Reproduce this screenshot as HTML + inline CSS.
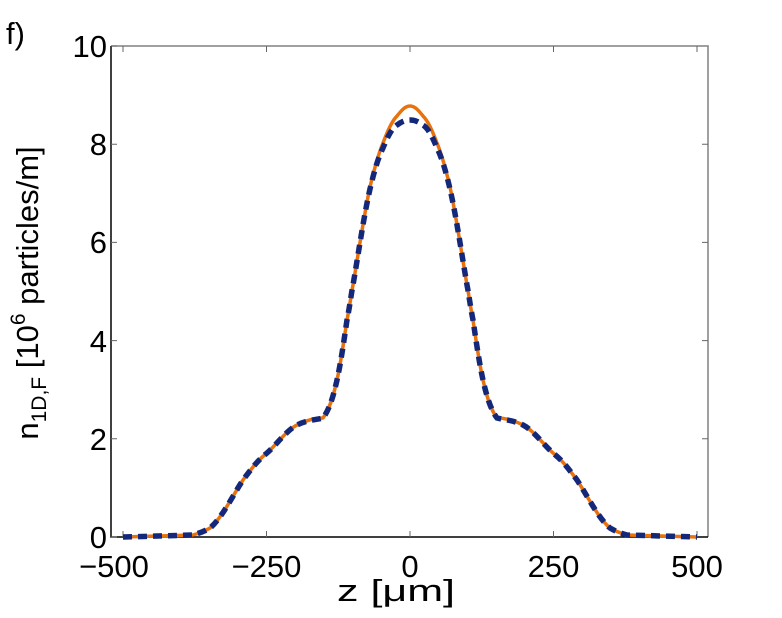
<!DOCTYPE html>
<html><head><style>body{margin:0;background:#fff}</style></head><body>
<svg width="782" height="613" xmlns="http://www.w3.org/2000/svg" font-family="Liberation Sans, sans-serif">
<rect width="782" height="613" fill="#fff"/>
<text x="6" y="44" font-size="31">f)</text>
<g stroke="#808080" stroke-width="1.5" fill="none">
<path d="M111,46 H708 V537"/>
</g>
<g stroke="#000" stroke-width="1.5" fill="none">
<path d="M111,46 V537 H708"/>
</g>
<g stroke="#666" stroke-width="1">
<path d="M123,537v-6M266.5,537v-6M410,537v-6M553.5,537v-6M697,537v-6M123,46v6M266.5,46v6M410,46v6M553.5,46v6M697,46v6"/>
<path d="M111,537h6M111,438.8h6M111,340.6h6M111,242.4h6M111,144.2h6M111,46h6M708,438.8h-6M708,340.6h-6M708,242.4h-6M708,144.2h-6"/>
</g>
<g font-size="31" text-anchor="end">
<text x="107" y="548">0</text><text x="107" y="450">2</text><text x="107" y="352">4</text>
<text x="107" y="253">6</text><text x="107" y="155">8</text><text x="107" y="57">10</text>
</g>
<g font-size="31" text-anchor="middle">
<text x="114" y="577">−500</text><text x="266.5" y="577">−250</text><text x="410" y="577">0</text>
<text x="553.5" y="577">250</text><text x="697" y="577">500</text>
<text x="396" y="601" textLength="118" lengthAdjust="spacingAndGlyphs">z [μm]</text>
</g>
<text transform="translate(38,293) rotate(-90)" font-size="31" text-anchor="middle">n<tspan font-size="21" dy="8">1D,F</tspan><tspan dy="-8"> [10</tspan><tspan font-size="21" dy="-13">6</tspan><tspan dy="13"> particles/m]</tspan></text>
<path fill="none" stroke="#e8720c" stroke-width="3.5" stroke-linejoin="round" d="M123,537 L193,535 C200,533 205,531 210,528 C222,518 233,495 243,480 C252,468 258,460 267,453 C277,444 287,430 297,425 C307,420 315,418 323,418 C329,410 333,398 337,380 C341,362 344,340 347,320 C350,305 351,295 353,285 C359,250 364,215 370,187 C374,170 378,155 383,143 C388,130 392,121 397,116 C401,111 405,106 410,106 C415,106 419,111 423,116 C428,121 432,130 437,143 C442,155 446,170 450,187 C456,215 461,250 467,285 C469,295 470,305 473,320 C476,340 479,362 483,380 C487,398 491,410 497,418 C505,418 513,420 523,425 C533,430 543,444 553,453 C562,460 568,468 577,480 C587,495 598,518 610,528 C615,531 620,533 627,535 L697,537"/>
<path fill="none" stroke="#13287a" stroke-width="5.5" stroke-dasharray="9,6" d="M123,537 L193,535 C200,533 205,531 210,528 C222,518 233,495 243,480 C252,468 258,460 267,453 C277,444 287,430 297,425 C307,420 315,420 323,418 C329,410 333,398 337,380 C341,362 344,340 347,320 C350,305 351,295 353,285 C359,250 364,215 370,189 C374,172 378,158 383,148 C388,136 392,128 397,125 C401,122 405,120 410,120 C415,120 419,122 423,125 C428,128 432,136 437,148 C442,158 446,172 450,189 C456,215 461,250 467,285 C469,295 470,305 473,320 C476,340 479,362 483,380 C487,398 491,410 497,418 C505,420 513,420 523,425 C533,430 543,444 553,453 C562,460 568,468 577,480 C587,495 598,518 610,528 C615,531 620,533 627,535 L697,537"/>
</svg>
</body></html>
